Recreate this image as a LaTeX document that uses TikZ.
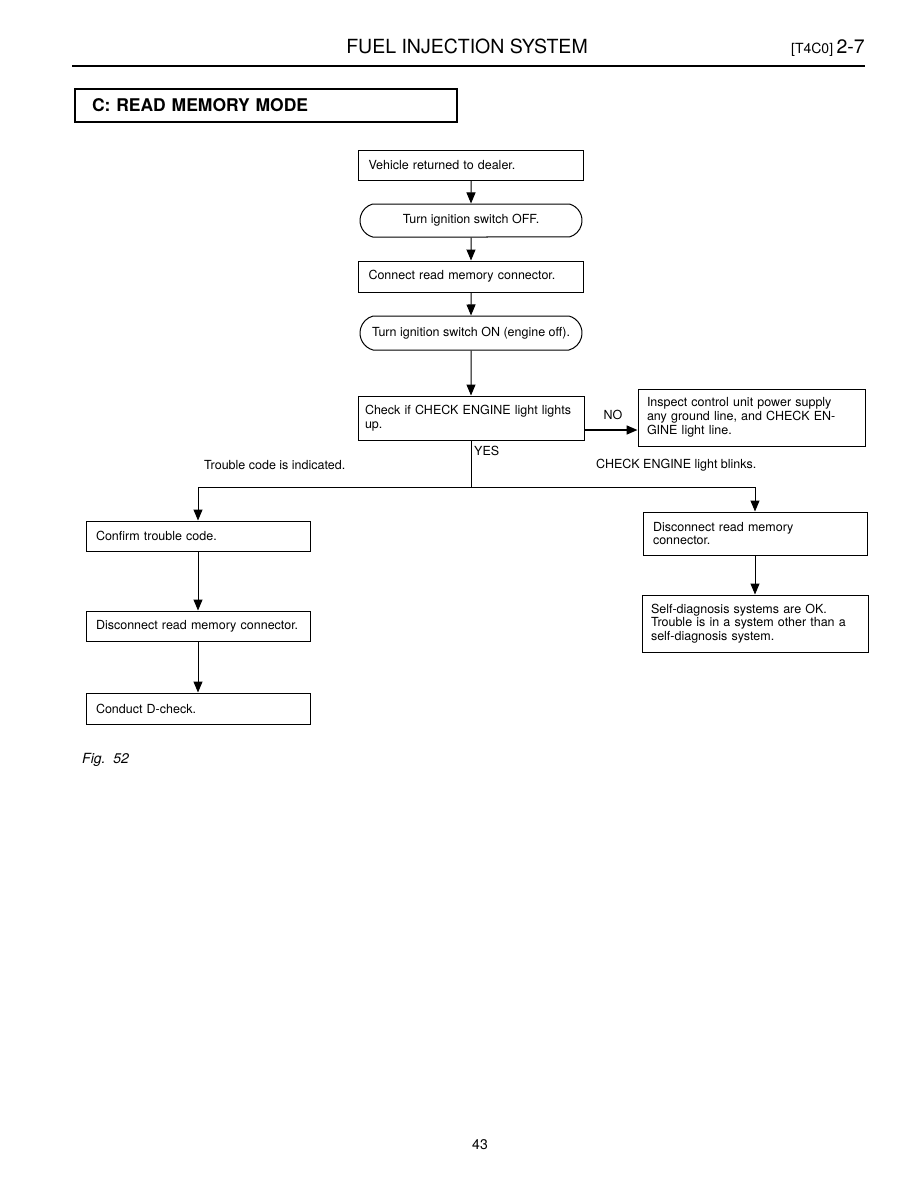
\documentclass[tikz,border=0pt]{standalone}
\usepackage{fontspec}
\setmainfont{TeX Gyre Heros}
\usetikzlibrary{arrows.meta,shapes.misc}

\begin{document}
\begin{tikzpicture}[x=1pt, y=-1pt,
    every node/.style={font=\fontsize{12.5}{13.8}\selectfont, inner sep=0pt},
    box/.style={draw, line width=1pt, text width=#1, align=left,
      inner xsep=10pt, inner ysep=4pt, minimum height=30pt},
    box/.default=205pt,
    pill/.style={draw, line width=1pt, rounded rectangle,
      rounded rectangle arc length=150, minimum width=222pt,
      minimum height=33pt, inner xsep=0pt},
    flow/.style={line width=1pt, -{Triangle[length=11pt, width=9pt]}},
    link/.style={line width=1pt}
  ]
  \fill[white] (0,0) rectangle (918,1188);
  \useasboundingbox (0,0) rectangle (918,1188);

  % page header
  \node[anchor=base, font=\fontsize{19.5}{22}\selectfont] (heading) at (467,54) {FUEL INJECTION SYSTEM};
  \node[anchor=base east] (pageref) at (865,54)
    {{\fontsize{14}{16}\selectfont [T4C0]}\ {\fontsize{19.5}{22}\selectfont 2-7}};
  \draw[line width=2.6pt] (72,66) -- (865,66);
  \node[draw, line width=1.3pt, minimum width=382pt, minimum height=33pt,
    text width=348pt, align=left, inner xsep=17pt,
    font=\bfseries\fontsize{17.5}{20}\selectfont] (title) at (266,105.5) {C: READ MEMORY MODE};

  % main column
  \node[box] (dealer) at (471,165) {Vehicle returned to dealer.};
  \node[pill] (ignoff) at (471,220.5) {Turn ignition switch OFF.};
  \node[box, minimum height=31pt] (connect) at (471,276.5) {Connect read memory connector.};
  \node[pill, minimum height=34pt] (ignon) at (471,333) {Turn ignition switch ON (engine off).};
  \node[box=212pt, inner xsep=7pt, minimum height=44pt] (check) at (471,418)
    {Check if CHECK ENGINE light lights\\up.};
  \node[box=209pt, inner xsep=9pt, minimum height=57pt] (inspect) at (751.5,417.5)
    {Inspect control unit power supply\\any ground line, and CHECK EN-\\GINE light line.};

  % left branch
  \node[box=204pt] (confirm) at (198,536) {Confirm trouble code.};
  \node[box=204pt] (disleft) at (198,626) {Disconnect read memory connector.};
  \node[box=204pt, minimum height=31pt] (dcheck) at (198,708.5) {Conduct D-check.};

  % right branch
  \node[box=204pt, minimum height=43pt] (disright) at (755,533.5)
    {Disconnect read memory\\connector.};
  \node[box=208pt, inner xsep=9pt, minimum height=57pt] (selfok) at (755,623.5)
    {Self-diagnosis systems are OK.\\Trouble is in a system other than a\\self-diagnosis system.};

  % labels
  \node[anchor=base] (no) at (613,419) {NO};
  \node[anchor=base west] (yes) at (474,455) {YES};
  \node[anchor=base west] (indicated) at (204,469) {Trouble code is indicated.};
  \node[anchor=base west] (blinks) at (596,468) {CHECK ENGINE light blinks.};

  \node[anchor=base west, font=\itshape\fontsize{14}{16}\selectfont] (fig) at (82,763) {Fig.\ \ 52};
  \node[font=\fontsize{14}{16}\selectfont] (pagenum) at (480,1145) {43};

  % connectors
  \draw[flow] (dealer) -- (ignoff);
  \draw[flow] (ignoff) -- (connect);
  \draw[flow] (connect) -- (ignon);
  \draw[flow] (ignon) -- (check);
  \coordinate (nofork) at ([yshift=-12pt]check.east);
  \draw[flow, line width=1.6pt] (nofork) -- (nofork -| inspect.west);
  \coordinate (split) at (471,487);
  \draw[link] (check) -- (split);
  \draw[flow] (split) -| (confirm);
  \draw[flow] (split) -| (disright);
  \draw[flow] (confirm) -- (disleft);
  \draw[flow] (disleft) -- (dcheck);
  \draw[flow] (disright) -- (selfok);
\end{tikzpicture}
\end{document}
